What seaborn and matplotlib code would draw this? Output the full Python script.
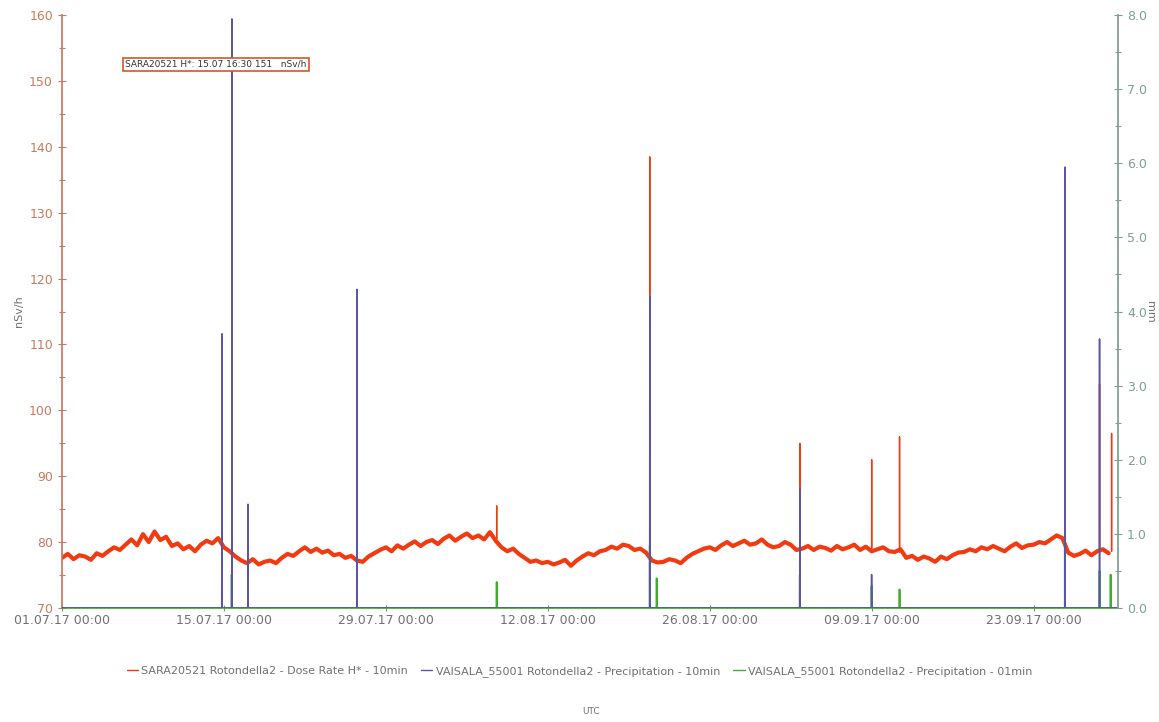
import matplotlib

matplotlib.use("Agg")

import matplotlib.dates as mdates
import matplotlib.pyplot as plt
import pandas as pd
import seaborn as sns
from matplotlib.ticker import MultipleLocator, FormatStrFormatter

sns.set_theme(style="white")
plt.rcParams["font.family"] = ["DejaVu Sans"]

# dose rate H* (nSv/h), read every 12 h from 01.07.17 00:00
dose_start = "2017-07-01 00:00"
dose_vals = [
    77.6, 78.2, 77.4, 78.0, 77.8, 77.3, 78.3, 77.9, 78.6, 79.2,
    78.8, 79.6, 80.4, 79.5, 81.2, 80.0, 81.6, 80.3, 80.8, 79.4,
    79.8, 78.9, 79.4, 78.6, 79.6, 80.2, 79.8, 80.6, 79.2, 78.6,
    77.8, 77.2, 76.8, 77.4, 76.6, 77.0, 77.2, 76.8, 77.6, 78.2,
    77.9, 78.6, 79.2, 78.5, 79.0, 78.4, 78.7, 78.0, 78.2, 77.6,
    77.9, 77.2, 77.0, 77.8, 78.3, 78.8, 79.2, 78.6, 79.5, 79.0,
    79.6, 80.1, 79.4, 80.0, 80.3, 79.7, 80.5, 81.0, 80.2, 80.8,
    81.3, 80.6, 81.0, 80.4, 81.5, 80.2, 79.2, 78.6, 79.0, 78.2,
    77.6, 77.0, 77.2, 76.8, 77.0, 76.6, 76.9, 77.3, 76.4, 77.2,
    77.8, 78.3, 78.0, 78.6, 78.8, 79.3, 79.0, 79.6, 79.4, 78.8,
    79.0, 78.4, 77.2, 76.9, 77.0, 77.4, 77.2, 76.8, 77.6, 78.2,
    78.6, 79.0, 79.2, 78.8, 79.5, 80.0, 79.4, 79.8, 80.2, 79.6,
    79.8, 80.4, 79.6, 79.2, 79.4, 80.0, 79.6, 78.8, 79.0, 79.4,
    78.8, 79.3, 79.1, 78.7, 79.4, 78.9, 79.2, 79.6, 78.8, 79.3,
    78.6, 78.9, 79.2, 78.6, 78.5, 78.9, 77.6, 77.9, 77.3, 77.8,
    77.5, 77.0, 77.8, 77.4, 78.0, 78.4, 78.5, 78.9, 78.6, 79.2,
    78.9, 79.4, 79.0, 78.6, 79.3, 79.8, 79.1, 79.5, 79.6, 80.0,
    79.8, 80.4, 81.0, 80.6, 78.4, 77.9, 78.2, 78.7, 78.0, 78.6,
    78.9, 78.3,
]

# short dose-rate peaks (10 min values) and the level just around them
dose_peak_times = [
    "2017-07-14 20:00", "2017-07-15 16:30", "2017-08-07 14:00",
    "2017-08-20 19:40", "2017-09-02 19:00", "2017-09-09 00:10",
    "2017-09-11 10:00", "2017-09-25 17:00", "2017-09-28 17:00",
    "2017-09-29 18:00",
]
dose_peak_vals = [87.5, 151.0, 85.5, 138.5, 95.0, 92.5, 96.0, 126.5, 104.0, 96.5]
dose_peak_base = [80.0, 79.0, 80.5, 78.5, 79.0, 79.0, 78.5, 80.5, 78.5, 78.6]

# precipitation 10 min (mm)
p10_times = [
    "2017-07-14 20:00", "2017-07-15 16:30", "2017-07-17 02:00",
    "2017-07-26 12:00", "2017-08-20 19:40", "2017-09-02 19:00",
    "2017-09-09 00:00", "2017-09-25 17:00", "2017-09-28 17:00",
]
p10_vals = [3.7, 7.95, 1.4, 4.3, 4.2, 1.6, 0.45, 5.95, 3.63]

# precipitation 01 min (mm)
p01_times = [
    "2017-07-14 19:50", "2017-07-15 16:00", "2017-07-26 12:00",
    "2017-08-07 14:00", "2017-08-20 19:40", "2017-08-21 10:00",
    "2017-09-02 19:00", "2017-09-09 00:00", "2017-09-11 10:00",
    "2017-09-25 17:00", "2017-09-28 17:00", "2017-09-29 16:00",
]
p01_vals = [0.55, 0.45, 0.5, 0.35, 0.85, 0.4, 0.45, 0.3, 0.25, 0.85, 0.5, 0.45]

series_start = "2017-07-01 00:00"
series_end = "2017-09-30 23:50"
x_end = "2017-09-30 07:00"

LEGEND = [
    "SARA20521 Rotondella2 - Dose Rate H* - 10min",
    "VAISALA_55001 Rotondella2 - Precipitation - 10min",
    "VAISALA_55001 Rotondella2 - Precipitation - 01min",
]
C_DOSE = "#f23a10"
C_P10 = "#5a55a8"
C_P01 = "#3fae2a"
C_LEFT = "#c87a5c"
C_RIGHT = "#7f9f90"
C_TEXT = "#707070"


def spike_frame(times, vals, base, step="10min"):
    t = pd.to_datetime(times)
    dt = pd.Timedelta(step)
    rows = []
    for ti, v, b in zip(t, vals, base):
        rows += [(ti - dt, b), (ti, v), (ti + dt, b)]
    return pd.DataFrame(rows, columns=["time", "value"])


def precip_frame(times, vals):
    df = spike_frame(times, vals, [0.0] * len(vals))
    ends = pd.DataFrame({"time": pd.to_datetime([series_start, series_end]), "value": [0.0, 0.0]})
    return pd.concat([ends, df]).sort_values("time").reset_index(drop=True)


dose = pd.DataFrame({
    "time": pd.date_range(dose_start, periods=len(dose_vals), freq="12h"),
    "value": dose_vals,
})
peaks = spike_frame(dose_peak_times, dose_peak_vals, dose_peak_base)
peaks["event"] = [i // 3 for i in range(len(peaks))]
p10 = precip_frame(p10_times, p10_vals)
p01 = precip_frame(p01_times, p01_vals)

fig = plt.figure(figsize=(11.59, 7.22), dpi=100)
ax = fig.add_axes([0.0535, 0.158, 0.911, 0.821])
ax2 = ax.twinx()

# dose on the left axis, precipitation drawn on top via the twin axis
line_kw = dict(x="time", y="value", estimator=None, sort=False)
sns.lineplot(data=peaks, units="event", color=C_DOSE, lw=1.0, ax=ax, **line_kw)
sns.lineplot(data=dose, color=C_DOSE, lw=3.0, ax=ax, **line_kw)
sns.lineplot(data=p01, color=C_P01, lw=1.3, ax=ax2, **line_kw)
sns.lineplot(data=p10, color=C_P10, lw=1.1, ax=ax2, **line_kw)

ax.set_xlim(pd.Timestamp(series_start), pd.Timestamp(x_end))
ax.set_ylim(70, 160)
ax2.set_ylim(0, 8)

ax.set_xticks(pd.date_range(series_start, x_end, freq="14D"))
ax.xaxis.set_major_formatter(mdates.DateFormatter("%d.%m.%y %H:%M"))

ax.yaxis.set_major_locator(MultipleLocator(10))
ax.yaxis.set_minor_locator(MultipleLocator(5))
ax2.yaxis.set_major_locator(MultipleLocator(1))
ax2.yaxis.set_minor_locator(MultipleLocator(0.5))
ax2.yaxis.set_major_formatter(FormatStrFormatter("%.1f"))

ax.tick_params(axis="y", which="both", direction="inout", length=6, width=0.8,
               colors=C_LEFT, labelsize=9, left=True)
ax.tick_params(axis="y", which="minor", length=4)
ax.tick_params(axis="x", direction="inout", length=5, width=0.8, color="#888888",
               labelcolor=C_TEXT, labelsize=9, bottom=True, pad=2)
ax2.tick_params(axis="y", which="both", direction="inout", length=6, width=0.8,
                colors=C_RIGHT, labelsize=9, right=True)
ax2.tick_params(axis="y", which="minor", length=4)

for a in (ax, ax2):
    a.spines["top"].set_visible(False)
    a.set_xlabel("")
    a.grid(False)
ax.spines["left"].set_color(C_LEFT)
ax.spines["right"].set_visible(False)
ax.spines["bottom"].set_color(C_P01)
ax2.spines["right"].set_color(C_RIGHT)
ax2.spines["left"].set_visible(False)
ax2.spines["bottom"].set_visible(False)

ax.set_ylabel("nSv/h", color=C_TEXT, fontsize=8, labelpad=4)
ax2.set_ylabel("mm", color=C_TEXT, fontsize=8, rotation=270, labelpad=6)

ax2.text(0.0597, 0.917, "SARA20521 H*: 15.07 16:30 151   nSv/h", transform=ax2.transAxes,
         fontsize=6.5, color="#333333", va="center", ha="left", zorder=10,
         bbox=dict(boxstyle="square,pad=0.25", facecolor="white", edgecolor="#d0582a", lw=1.2))

handles = [plt.Line2D([], [], color=c, lw=1) for c in (C_DOSE, C_P10, C_P01)]
fig.legend(handles, LEGEND, loc="center", bbox_to_anchor=(0.5, 0.07), ncol=3, frameon=False,
           fontsize=8, labelcolor=C_TEXT, handlelength=1.0, handletextpad=0.3, columnspacing=1.2)
fig.text(0.51, 0.014, "UTC", fontsize=6.5, color=C_TEXT, ha="center", va="center")

fig.savefig("out.png", dpi=100)
plt.close(fig)
